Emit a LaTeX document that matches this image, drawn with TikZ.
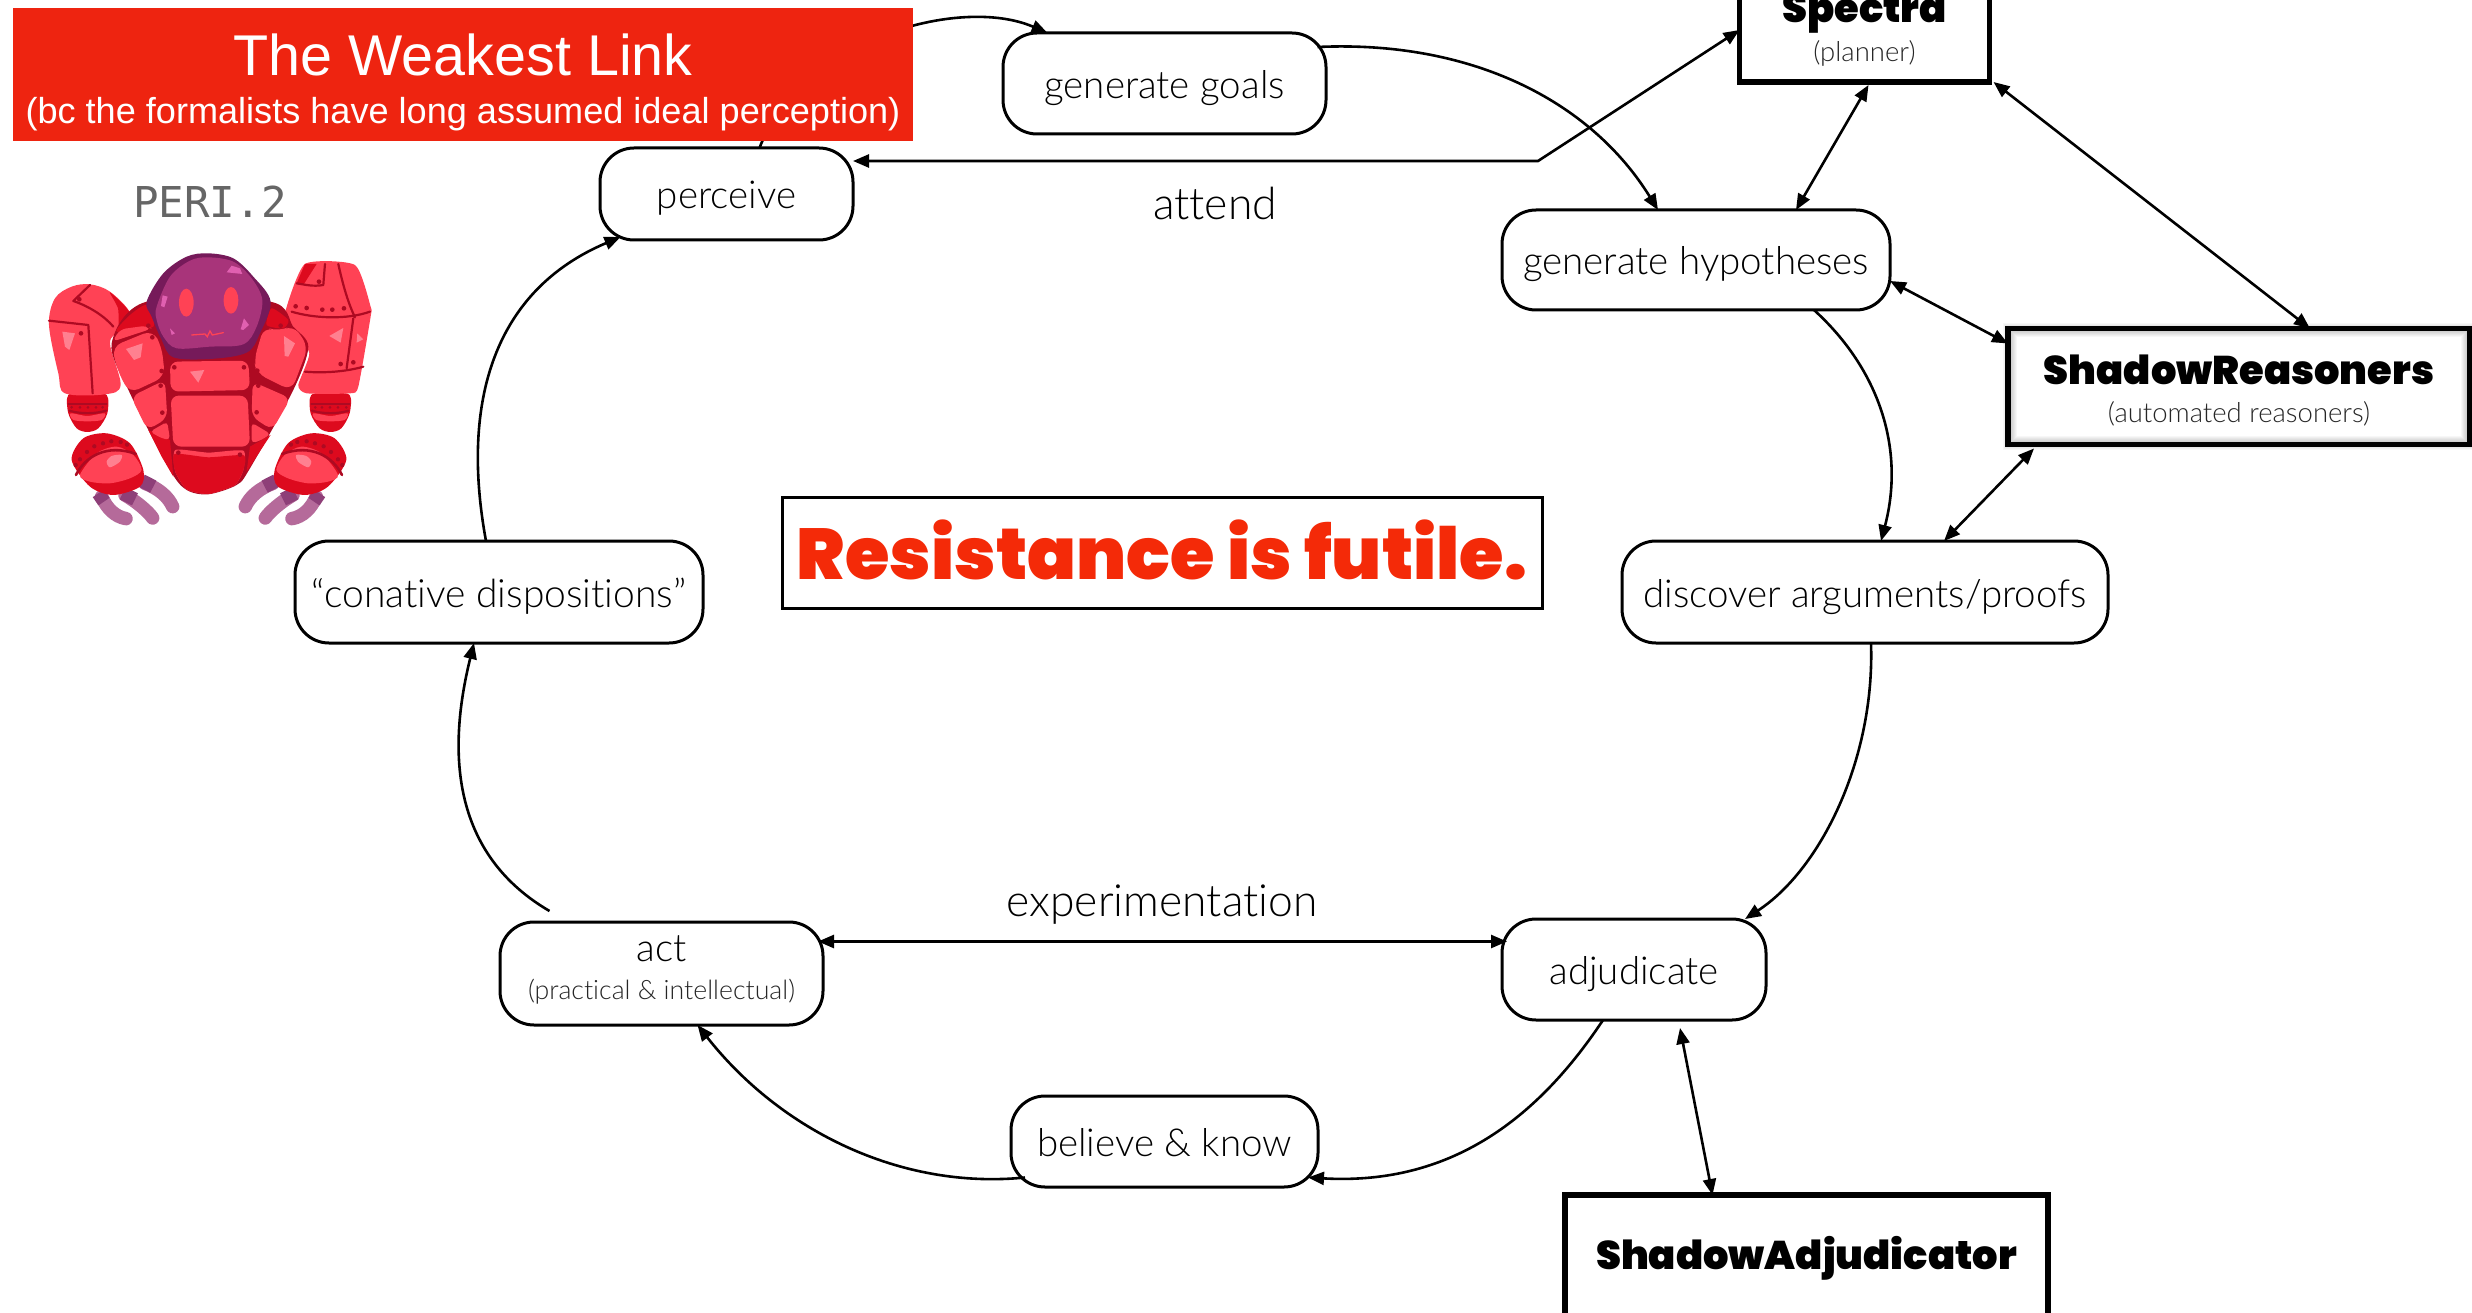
\documentclass[tikz,border=0pt]{standalone}
\usepackage{fontspec}
\usetikzlibrary{arrows.meta,calc}
\setmainfont[Ligatures=NoCommon]{Lato Light}
\newfontfamily\heavyfont{Poppins Black}
\newfontfamily\helv{Liberation Sans}
\newfontfamily\monof{DejaVu Sans Mono}
\newcommand{\fsz}[1]{\fontsize{#1}{#1}\selectfont}
\definecolor{bannerred}{HTML}{EE2410}
\definecolor{slogan}{HTML}{F42A08}
\definecolor{rbody}{HTML}{FF4255}
\definecolor{rdark}{HTML}{DD0A1E}
\definecolor{rseam}{HTML}{AE0A22}
\definecolor{rglow}{HTML}{FF8090}
\definecolor{visor}{HTML}{A8347A}
\definecolor{visorrim}{HTML}{761A5A}
\definecolor{visorglow}{HTML}{E060B0}
\definecolor{finger}{HTML}{B56A9A}
\definecolor{fingerdk}{HTML}{8E3F78}
\tikzset{
  stage/.style={draw=black,line width=3pt,rounded corners=34pt,outer sep=0pt,inner sep=0pt,fill=white,font=\fsz{38.5},text height=30pt,text depth=0pt},
  tool/.style={draw=black,line width=5.5pt,outer sep=0pt,inner sep=0pt,fill=white},
  flow/.style={line width=2.6pt,-{Triangle[length=16pt,width=13pt]}},
  both/.style={line width=2.6pt,{Triangle[length=16pt,width=13pt]}-{Triangle[length=16pt,width=13pt]}},
  toolname/.style={font=\heavyfont\fsz{40}},
  toolnote/.style={font=\fsz{27.5},text=black!85},
  seam/.style={draw=rseam,line width=2.2pt,line cap=round,line join=round},
  rivet/.style={fill=rseam},
  softshadow/.style={draw=black,opacity=0.03}
}
% one of the gripper assemblies: palm, knuckle seam and three fingers
\newcommand{\gripper}{%
  \draw[finger,line width=13.5pt,line cap=round] (345,760) .. controls (385,775) and (415,800) .. (428,830);
  \draw[finger,line width=13.5pt,line cap=round] (285,795) .. controls (320,815) and (355,845) .. (368,864);
  \draw[finger,line width=13.5pt,line cap=round] (215,800) .. controls (230,835) and (255,860) .. (288,866);
  \draw[fingerdk,line width=13.5pt] (335,752) -- (370,770);
  \draw[fingerdk,line width=13.5pt] (278,790) -- (315,808);
  \draw[fingerdk,line width=13.5pt] (205,790) -- (222,815);
  \fill[rdark] plot[smooth cycle] coordinates {(125,690) (160,625) (230,610) (300,640) (340,720) (330,770) (250,795) (180,770)};
  \fill[rbody] plot[smooth cycle] coordinates {(150,735) (200,670) (260,650) (310,675) (335,720) (300,745) (240,760) (180,755)};
  \draw[seam,line width=2.6pt] (138,735) .. controls (165,680) and (230,640) .. (318,672);
  \foreach \p in {(137,705),(150,688),(171,666),(193,649),(219,640),(244,634),(272,636),(291,644)}
    \fill[rivet] \p circle (6.5);
  \fill[rglow] plot[smooth cycle] coordinates {(230,695) (245,678) (275,675) (270,695) (240,712)};
}
% wrist cuff hanging below a forearm
\newcommand{\wrist}{%
  \fill[rdark] plot[smooth cycle] coordinates {(115,495) (172,490) (230,495) (232,550) (205,595) (172,606) (140,595) (115,550)};
  \fill[rbody] plot[smooth cycle] coordinates {(122,550) (172,558) (224,550) (215,570) (172,574) (130,570)};
  \draw[seam] (115,522) -- (230,522);
  \draw[seam] (118,542) .. controls (150,552) and (195,552) .. (228,542);
  \foreach \x in {125,150,174,198,218} \fill[rivet] (\x,532) circle (4.5);
}
\begin{document}
\begin{tikzpicture}[x=1pt,y=-1pt]
\useasboundingbox (0,0) rectangle (2472,1313);
\clip (0,0) rectangle (2472,1313);
\fill[white] (0,0) rectangle (2472,1313);

% cycle stages
\node[stage,minimum width=323pt,minimum height=101pt] (goals) at (1164.5,83.5) {generate goals};
\node[stage,minimum width=253pt,minimum height=92pt] (perceive) at (726.5,194) {perceive};
\node[stage,minimum width=388pt,minimum height=100pt] (hyp) at (1696,260) {generate hypotheses};
\node[stage,minimum width=486pt,minimum height=102pt] (disc) at (1865,592) {discover arguments/proofs};
\node[stage,minimum width=264pt,minimum height=101pt] (adj) at (1634,969.5) {adjudicate};
\node[stage,minimum width=323pt,minimum height=103pt] (act) at (661.5,973.5) {};
\node[stage,minimum width=307pt,minimum height=91pt] (believe) at (1164.5,1141.5) {believe \& know};
\node[stage,font=\fsz{39},minimum width=408pt,minimum height=102pt] (con) at (499,592) {“conative dispositions”};
\node[font=\fsz{38.5}] (acttxt) at (661.5,949) {act};
\node[font=\fsz{26.7},text=black!85] (actnote) at (661.5,992) {(practical \& intellectual)};

% external reasoning systems
\node[tool,minimum width=250pt,minimum height=170pt] (spectra) at (1864.5,-3) {};
\node[toolname] (spectratxt) at (1864.5,14) {Spectra};
\node[toolnote] (spectranote) at (1864.5,53) {(planner)};
\foreach \i in {2,4,...,14}
  \draw[softshadow,line width=\i pt] (2010,330) rectangle (2468,443);
\node[tool,fill=none,minimum width=462pt,minimum height=116pt] (reasoners) at (2239,386.5) {};
\node[toolname] (reasonerstxt) at (2239,370) {ShadowReasoners};
\node[toolnote] (reasonersnote) at (2239,414) {(automated reasoners)};
\node[tool,minimum width=483pt,minimum height=160pt] (shadj) at (1806.5,1275) {};
\node[toolname] (shadjtxt) at (1806.5,1258) {ShadowAdjudicator};

% connectors around the cycle
\draw[flow] ([xshift=33pt]perceive.north) .. controls (800,40) and (960,-5) .. ([xshift=-117pt]goals.north);
\draw[flow] ([xshift=153pt,yshift=-14pt]goals.north) .. controls (1470,40) and (1590,100) .. ([xshift=-38pt]hyp.north);
\draw[both] ([yshift=33pt]perceive.east) -- (1538,161) -- ([yshift=52pt]spectra.south west);
\draw[both] ([xshift=4pt,yshift=-3pt]spectra.south) -- ([xshift=100pt]hyp.north);
\draw[both] ([xshift=4pt]spectra.south east) -- ([xshift=71pt]reasoners.north);
\draw[both] ([yshift=-21pt]hyp.east) -- ([yshift=43pt]reasoners.west);
\draw[flow] ([xshift=118pt]hyp.south) .. controls (1880,370) and (1905,450) .. ([xshift=16pt]disc.north);
\draw[both] ([xshift=79pt]disc.north) -- ([xshift=-205pt,yshift=-4pt]reasoners.south);
\draw[flow] ([xshift=6pt]disc.south) .. controls (1875,760) and (1820,870) .. ([xshift=111pt]adj.north);
\draw[both] ([xshift=-5pt,yshift=32pt]act.east) -- ([xshift=5pt,yshift=28pt]adj.west);
\draw[flow] ([xshift=-31pt]adj.south) .. controls (1530,1130) and (1440,1185) .. ([xshift=-10pt,yshift=-36pt]believe.east);
\draw[flow] ([xshift=14pt,yshift=-36pt]believe.west) .. controls (900,1190) and (780,1130) .. ([xshift=36pt]act.south);
\draw[flow] ([xshift=-112pt,yshift=11pt]act.north) .. controls (445,850) and (450,740) .. ([xshift=-25pt]con.south);
\draw[flow] ([xshift=-13pt]con.north) .. controls (460,400) and (495,290) .. ([xshift=-106pt,yshift=3pt]perceive.south);
\draw[both] ([xshift=46pt,yshift=-8pt]adj.south) -- ([xshift=-94pt]shadj.north);

% banner and free labels
\fill[bannerred] (13,8) rectangle (913,141);
\node[font=\helv\fsz{57.5},text=white] (title) at (463,55) {The Weakest Link};
\node[font=\helv\fsz{36.1},text=white] (subtitle) at (463,114) {(bc the formalists have long assumed ideal perception)};
\node[font=\monof\fsz{42.5},text=black!60] (peri) at (210,202) {PERI.2};
\node[font=\fsz{44.5}] (attend) at (1215,203) {attend};
\node[font=\fsz{44.4}] (exper) at (1162,905) {experimentation};
\node[draw=black,line width=3pt,minimum width=760pt,minimum height=111pt,inner sep=0pt,text depth=6pt,
      font=\heavyfont\fsz{72},text=slogan] (slogantxt) at (1162,552.5) {Resistance is futile.};

% robot mascot
\begin{scope}[shift={(30,230)},x=0.3333pt,y=-0.3333pt]
  \begin{scope}[shift={(537,0)},xscale=-1,shift={(-537,0)}]
    \gripper
    \wrist
  \end{scope}
  \begin{scope}
    \gripper
    \wrist
  \end{scope}
  % left arm
  \fill[rbody] plot[smooth cycle,tension=0.55] coordinates {(57,285) (75,205) (125,170) (180,163) (240,185) (300,250) (270,300) (240,340) (272,465) (225,493) (105,490) (85,430)};
  \fill[rdark] plot[smooth cycle,tension=0.5] coordinates {(240,187) (300,250) (268,292) (264,235)};
  \draw[seam] (57,272) -- (175,285) -- (188,490);
  \draw[seam] (180,165) -- (130,213) .. controls (180,230) and (225,260) .. (250,290);
  \fill[rivet] (148,208) circle (7) (153,310) circle (7);
  \fill[rglow] (97,305) -- (135,310) -- (118,360) -- (105,350) -- cycle;
  % right arm
  \fill[rbody] plot[tension=0.35,smooth cycle] coordinates {(825,102) (975,105) (1022,230) (1022,260) (985,470) (960,490) (830,490) (805,465) (838,370) (790,290) (765,250)};
  \fill[rdark] (825,102) -- (860,102) -- (820,165) -- (800,160) -- cycle;
  \draw[seam] (885,102) -- (880,165) .. controls (850,170) and (830,165) .. (800,160);
  \draw[seam] (925,102) .. controls (940,170) and (955,220) .. (975,262);
  \draw[seam] (785,245) .. controls (850,265) and (950,270) .. (1020,245);
  \draw[seam] (970,265) -- (950,415);
  \draw[seam] (825,425) .. controls (880,430) and (950,425) .. (1000,410);
  \foreach \p in {(797,229),(830,234),(877,239),(907,239),(942,235),(932,402),(970,397),(867,155)}
    \fill[rivet] \p circle (7);
  \fill[rglow] (898,318) -- (940,294) -- (932,338) -- cycle;
  \fill[rglow] (982,310) -- (1000,328) -- (980,338) -- cycle;
  % torso
  \fill[rseam] plot[smooth cycle,tension=0.5] coordinates {(245,340) (300,490) (420,720) (470,780) (535,793) (620,765) (660,715) (790,480) (835,350) (790,290) (720,215) (350,215)};
  \fill[rdark] (355,600) -- (420,630) -- (430,740) -- (395,680) -- cycle;
  \fill[rdark] (722,615) -- (660,650) -- (650,725) -- cycle;
  \fill[rdark] plot[smooth cycle,tension=0.4] coordinates {(350,225) (370,290) (260,305) (300,255)};
  \fill[rdark] plot[smooth cycle,tension=0.4] coordinates {(725,235) (775,270) (760,295) (710,285)};
  \fill[rbody,rounded corners=8pt] (420,395) -- (655,392) -- (660,480) -- (422,485) -- cycle;
  \fill[rbody,rounded corners=8pt] (422,497) -- (653,497) -- (660,650) -- (430,650) -- cycle;
  \fill[rbody] plot[smooth cycle,tension=0.35] coordinates {(436,660) (535,668) (640,662) (640,720) (615,765) (535,792) (470,778) (436,725)};
  \fill[rdark] plot[smooth cycle,tension=0.35] coordinates {(434,672) (535,682) (642,676) (640,720) (615,765) (535,792) (470,778) (436,725)};
  \fill[rbody,rounded corners=10pt] (246,350) -- (368,300) -- (395,350) -- (405,440) -- (298,490) -- (262,420) -- cycle;
  \fill[rbody,rounded corners=6pt] (247,335) -- (270,298) -- (350,287) -- (365,296) -- cycle;
  \fill[rbody,rounded corners=8pt] (303,500) -- (405,450) -- (412,565) -- (352,600) -- cycle;
  \fill[rbody,rounded corners=4pt] (360,605) -- (412,575) -- (420,630) -- (395,625) -- cycle;
  \fill[rbody,rounded corners=10pt] (672,390) -- (702,290) -- (745,305) -- (790,285) -- (835,350) -- (785,482) -- (680,430) -- cycle;
  \fill[rbody,rounded corners=8pt] (668,455) -- (782,505) -- (727,600) -- (665,560) -- cycle;
  \fill[rbody,rounded corners=4pt] (665,578) -- (722,612) -- (695,630) -- (665,640) -- cycle;
  \foreach \p in {(355,287),(367,322),(395,423),(392,467),(397,548),(433,412),(642,412),(682,422),(685,467),(680,547),(445,668),(630,674),(752,287)}
    \fill[rivet] \p circle (7);
  \fill[rglow] (288,357) -- (338,340) -- (332,382) -- (312,390) -- cycle;
  \fill[rglow] (480,425) -- (523,420) -- (505,458) -- cycle;
  \fill[rglow] (762,318) -- (795,340) -- (775,380) -- (764,378) -- cycle;
  % head
  \fill[visorrim] plot[smooth cycle,tension=0.55] coordinates {(350,215) (400,130) (470,80) (535,70) (610,85) (670,140) (722,215) (690,310) (650,368) (540,387) (430,382) (395,330) (365,260)};
  \fill[visor] plot[smooth cycle,tension=0.55] coordinates {(380,230) (420,140) (480,92) (535,82) (610,95) (665,145) (697,210) (680,290) (640,343) (540,350) (440,355) (400,320) (380,270)};
  \fill[rbody] (469,218) ellipse [x radius=22,y radius=42];
  \fill[rbody] (603,211) ellipse [x radius=22,y radius=40];
  \draw[rbody,line width=1.3pt,line cap=round] (485,315) -- (525,312) -- (532,320) -- (540,303) -- (547,315) -- (580,308);
  \fill[visorglow] (590,127) -- (605,107) -- (630,115) -- (637,132) -- cycle;
  \fill[visorglow] (398,196) -- (413,200) -- (403,232) -- (393,228) -- cycle;
  \fill[visorglow] (420,295) -- (435,310) -- (425,315) -- cycle;
  \fill[visorglow] (642,265) -- (657,285) -- (640,300) -- (632,298) -- cycle;
\end{scope}
\end{tikzpicture}
\end{document}
